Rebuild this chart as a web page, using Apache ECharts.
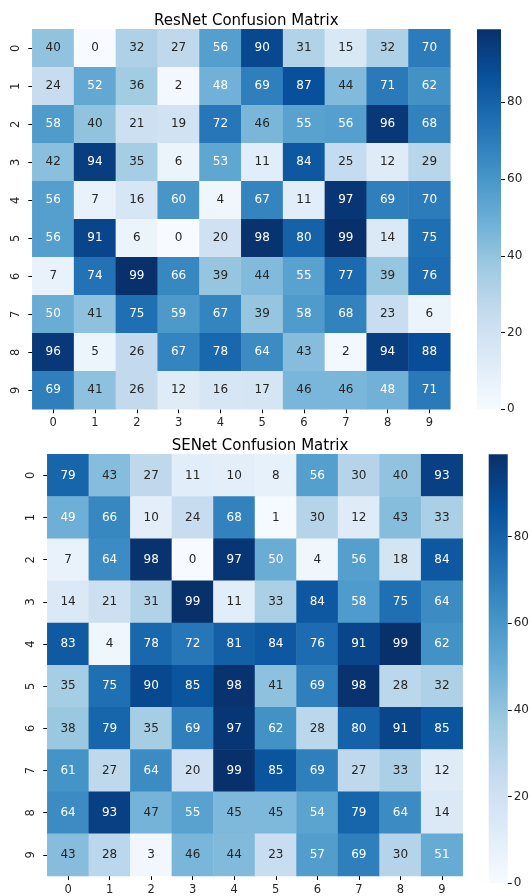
<!DOCTYPE html>
<html>
<head>
<meta charset="utf-8">
<script src="https://cdn.jsdelivr.net/npm/echarts@6/dist/echarts.min.js"></script>
<style>
html,body{margin:0;padding:0;background:#fff;}
#chart{width:532px;height:896px;}
</style>
</head>
<body>
<div id="chart"></div>
<script>
const classLabels = ['0','1','2','3','4','5','6','7','8','9'];
const colorbarTicks = [0, 20, 40, 60, 80];
const resnetTitle = 'ResNet Confusion Matrix';
const senetTitle = 'SENet Confusion Matrix';
const resnetValues = [
  [40, 0, 32, 27, 56, 90, 31, 15, 32, 70],
  [24, 52, 36, 2, 48, 69, 87, 44, 71, 62],
  [58, 40, 21, 19, 72, 46, 55, 56, 96, 68],
  [42, 94, 35, 6, 53, 11, 84, 25, 12, 29],
  [56, 7, 16, 60, 4, 67, 11, 97, 69, 70],
  [56, 91, 6, 0, 20, 98, 80, 99, 14, 75],
  [7, 74, 99, 66, 39, 44, 55, 77, 39, 76],
  [50, 41, 75, 59, 67, 39, 58, 68, 23, 6],
  [96, 5, 26, 67, 78, 64, 43, 2, 94, 88],
  [69, 41, 26, 12, 16, 17, 46, 46, 48, 71]
];
const senetValues = [
  [79, 43, 27, 11, 10, 8, 56, 30, 40, 93],
  [49, 66, 10, 24, 68, 1, 30, 12, 43, 33],
  [7, 64, 98, 0, 97, 50, 4, 56, 18, 84],
  [14, 21, 31, 99, 11, 33, 84, 58, 75, 64],
  [83, 4, 78, 72, 81, 84, 76, 91, 99, 62],
  [35, 75, 90, 85, 98, 41, 69, 98, 28, 32],
  [38, 79, 35, 69, 97, 62, 28, 80, 91, 85],
  [61, 27, 64, 20, 99, 85, 69, 27, 33, 12],
  [64, 93, 47, 55, 45, 45, 54, 79, 64, 14],
  [43, 28, 3, 46, 44, 23, 57, 69, 30, 51]
];

const blues = ['#f7fbff','#deebf7','#c6dbef','#9ecae1','#6baed6','#4292c6','#2171b5','#08519c','#08306b'];
const FONT = 'DejaVu Sans';
const DARK = '#262626';

function flatten(m) {
  const out = [];
  m.forEach((row, r) => row.forEach((v, c) => {
    out.push({ value: [c, r, v], label: { color: v >= 48 ? '#ffffff' : DARK } });
  }));
  return out;
}
function maxOf(m) { return Math.max.apply(null, m.map(r => Math.max.apply(null, r))); }
function minOf(m) { return Math.min.apply(null, m.map(r => Math.min.apply(null, r))); }

const L = [
  { left: 32.3, top: 29.3, width: 418, height: 380, cbLeft: 477 },
  { left: 47.3, top: 454.3, width: 415.4, height: 429, cbLeft: 488.7 }
];

const catX = (gi) => ({
  type: 'category', gridIndex: gi, data: classLabels, position: 'bottom',
  axisLine: { show: false }, splitLine: { show: false }, splitArea: { show: false },
  axisTick: { show: true, alignWithLabel: true, length: 4, lineStyle: { color: '#000', width: 1 } },
  axisLabel: { color: DARK, fontSize: 11.5, fontFamily: FONT, margin: 8 }
});
const catY = (gi) => ({
  type: 'category', gridIndex: gi, data: classLabels, inverse: true,
  axisLine: { show: false }, splitLine: { show: false }, splitArea: { show: false },
  axisTick: { show: true, alignWithLabel: true, length: 4, lineStyle: { color: '#000', width: 1 } },
  axisLabel: { color: DARK, fontSize: 11.5, fontFamily: FONT, rotate: 90, margin: 10 }
});
const cbX = (gi) => ({ type: 'category', gridIndex: gi, show: false, data: ['cb'], boundaryGap: true });
const cbY = (gi, lo, hi) => ({
  type: 'value', gridIndex: gi, position: 'right', min: lo, max: hi,
  axisLine: { show: false }, splitLine: { show: false },
  axisTick: { show: true, length: 4, customValues: colorbarTicks, lineStyle: { color: '#000' } },
  axisLabel: { show: true, customValues: colorbarTicks, color: DARK, fontSize: 12, fontFamily: FONT, margin: 6 }
});
const gradient = () => new echarts.graphic.LinearGradient(0, 1, 0, 0,
  blues.map((c, i) => ({ offset: i / (blues.length - 1), color: c })));

const rMin = minOf(resnetValues), rMax = maxOf(resnetValues);
const sMin = minOf(senetValues), sMax = maxOf(senetValues);

const option = {
  backgroundColor: '#ffffff',
  animation: false,
  textStyle: { fontFamily: FONT },
  title: [
    { text: resnetTitle, left: L[0].left + L[0].width / 2, textAlign: 'center', top: 9,
      textStyle: { fontSize: 15, fontWeight: 'normal', color: '#000', fontFamily: FONT } },
    { text: senetTitle, left: L[1].left + L[1].width / 2, textAlign: 'center', top: 434,
      textStyle: { fontSize: 15, fontWeight: 'normal', color: '#000', fontFamily: FONT } }
  ],
  grid: [
    { left: L[0].left, top: L[0].top, width: L[0].width, height: L[0].height },
    { left: L[1].left, top: L[1].top, width: L[1].width, height: L[1].height },
    { left: L[0].cbLeft, top: L[0].top, width: 24, height: L[0].height },
    { left: L[1].cbLeft, top: L[1].top, width: 24, height: L[1].height }
  ],
  xAxis: [catX(0), catX(1), cbX(2), cbX(3)],
  yAxis: [catY(0), catY(1), cbY(2, rMin, rMax), cbY(3, sMin, sMax)],
  visualMap: [
    { type: 'continuous', show: false, seriesIndex: 0, min: rMin, max: rMax, inRange: { color: blues } },
    { type: 'continuous', show: false, seriesIndex: 1, min: sMin, max: sMax, inRange: { color: blues } }
  ],
  series: [
    { type: 'heatmap', xAxisIndex: 0, yAxisIndex: 0, data: flatten(resnetValues),
      label: { show: true, fontSize: 12, fontFamily: FONT, formatter: p => String(p.value[2]) },
      itemStyle: { borderWidth: 0 }, emphasis: { disabled: true } },
    { type: 'heatmap', xAxisIndex: 1, yAxisIndex: 1, data: flatten(senetValues),
      label: { show: true, fontSize: 12, fontFamily: FONT, formatter: p => String(p.value[2]) },
      itemStyle: { borderWidth: 0 }, emphasis: { disabled: true } },
    { type: 'bar', xAxisIndex: 2, yAxisIndex: 2, data: [rMax], barWidth: '100%', silent: true,
      itemStyle: { color: gradient(), borderWidth: 0 } },
    { type: 'bar', xAxisIndex: 3, yAxisIndex: 3, data: [sMax], barWidth: '100%', silent: true,
      itemStyle: { color: gradient(), borderWidth: 0 } }
  ]
};

const chart = echarts.init(document.getElementById('chart'), null, { renderer: 'canvas' });
chart.setOption(option);
</script>
</body>
</html>
